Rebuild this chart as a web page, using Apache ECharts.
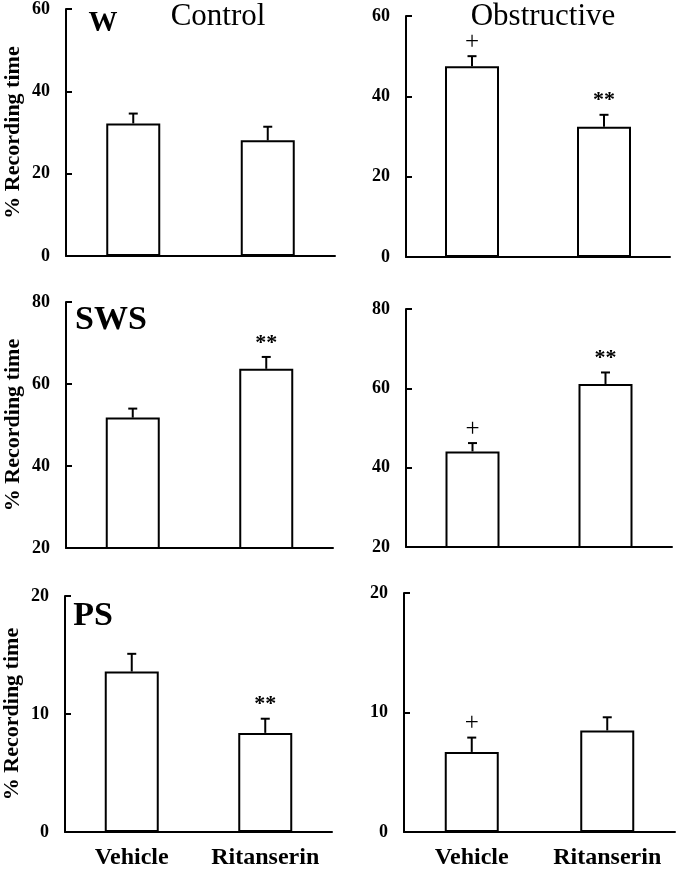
<!DOCTYPE html>
<html>
<head>
<meta charset="utf-8">
<script src="https://cdn.jsdelivr.net/npm/echarts@6/dist/echarts.min.js"></script>
<style>
html,body{margin:0;padding:0;background:#fff;}
#chart{width:678px;height:870px;}
</style>
</head>
<body>
<div id="chart"></div>
<script>
// ---- data ----
var categories = ['Vehicle', 'Ritanserin'];
var panelNames = ['W', 'SWS', 'PS'];
var columnTitles = ['Control', 'Obstructive'];
var yAxisName = '% Recording time';

var wControlMean = [32.2, 28.1];
var wControlErr = [2.4, 3.3];
var wObstrMean = [47.5, 32.4];
var wObstrErr = [2.5, 3.0];

var swsControlMean = [51.8, 63.7];
var swsControlErr = [2.2, 2.9];
var swsObstrMean = [44.1, 61.1];
var swsObstrErr = [2.1, 2.9];

var psControlMean = [13.6, 8.4];
var psControlErr = [1.5, 1.2];
var psObstrMean = [6.7, 8.5];
var psObstrErr = [1.2, 1.1];

var wControlMarks = ['', ''];
var wObstrMarks = ['+', '**'];
var swsControlMarks = ['', '**'];
var swsObstrMarks = ['+', '**'];
var psControlMarks = ['', '**'];
var psObstrMarks = ['+', ''];

var wTicks = [0, 60, 20];     // min, max, interval
var swsTicks = [20, 80, 20];
var psTicks = [0, 20, 10];

// ---- layout ----
var FONT = '"Liberation Serif", "Times New Roman", serif';
var panels = [
  {mean: wControlMean, err: wControlErr, marks: wControlMarks, ticks: wTicks, grid: {left: 66, top: 9, width: 269, height: 247}, col: 0, row: 0},
  {mean: wObstrMean, err: wObstrErr, marks: wObstrMarks, ticks: wTicks, grid: {left: 406, top: 16, width: 264, height: 241}, col: 1, row: 0},
  {mean: swsControlMean, err: swsControlErr, marks: swsControlMarks, ticks: swsTicks, grid: {left: 66, top: 302, width: 267, height: 246}, col: 0, row: 1},
  {mean: swsObstrMean, err: swsObstrErr, marks: swsObstrMarks, ticks: swsTicks, grid: {left: 406, top: 309, width: 266, height: 238}, col: 1, row: 1},
  {mean: psControlMean, err: psControlErr, marks: psControlMarks, ticks: psTicks, grid: {left: 63, top: 596, width: 269, height: 238}, col: 0, row: 2},
  {mean: psObstrMean, err: psObstrErr, marks: psObstrMarks, ticks: psTicks, grid: {left: 404, top: 593, width: 271, height: 241}, col: 1, row: 2}
];

var grids = [], xAxes = [], yAxes = [], series = [];
panels.forEach(function (p, i) {
  grids.push(p.grid);
  xAxes.push({
    type: 'category', gridIndex: i, data: categories,
    axisLine: {onZero: false, lineStyle: {color: '#000', width: 2}},
    axisTick: {show: false},
    axisLabel: {show: p.row === 2, interval: 0, hideOverlap: false, color: '#000', fontFamily: FONT, fontWeight: 'bold', fontSize: 24, margin: 14}
  });
  yAxes.push({
    type: 'value', gridIndex: i, min: p.ticks[0], max: p.ticks[1], interval: p.ticks[2],
    splitLine: {show: false},
    axisLine: {show: true, lineStyle: {color: '#000', width: 2}},
    axisTick: {show: true, inside: true, length: 6, lineStyle: {color: '#000', width: 2}},
    axisLabel: {color: '#000', fontFamily: FONT, fontWeight: 'bold', fontSize: 18, margin: 16},
    name: p.col === 0 ? yAxisName : '',
    nameLocation: 'middle', nameGap: 42,
    nameTextStyle: {color: '#000', fontFamily: FONT, fontWeight: 'bold', fontSize: 22}
  });
  series.push({
    type: 'bar', xAxisIndex: i, yAxisIndex: i, barWidth: 54,
    data: p.mean,
    itemStyle: {color: '#fff', borderColor: '#000', borderWidth: 2},
    silent: true, z: 2
  });
  var errData = p.mean.map(function (m, k) { return [k, m, p.err[k], p.marks[k]]; });
  series.push({
    type: 'custom', xAxisIndex: i, yAxisIndex: i, z: 3,
    data: errData,
    encode: {x: 0, y: 1},
    renderItem: function (params, api) {
      var x = api.value(0), m = api.value(1), e = api.value(2);
      var mark = errData[params.dataIndex][3];
      var base = api.coord([x, m]);
      var top = api.coord([x, m + e]);
      var children = [
        {type: 'line', shape: {x1: base[0], y1: base[1], x2: top[0], y2: top[1]}, style: {stroke: '#000', lineWidth: 2}},
        {type: 'line', shape: {x1: top[0] - 4.5, y1: top[1], x2: top[0] + 4.5, y2: top[1]}, style: {stroke: '#000', lineWidth: 2}}
      ];
      if (mark) {
        children.push({type: 'text', x: top[0], y: top[1] - 14,
          style: {text: mark, x: 0, y: 0, align: 'center', verticalAlign: 'middle', fill: '#000',
                  font: (mark === '+' ? 'normal 25px ' : 'bold 22px ') + FONT}});
      }
      return {type: 'group', children: children};
    }
  });
});

var graphics = [
  {type: 'text', x: 103, y: 24, style: {text: panelNames[0], align: 'center', verticalAlign: 'middle', fill: '#000', font: 'bold 29px ' + FONT}},
  {type: 'text', x: 111, y: 320, style: {text: panelNames[1], align: 'center', verticalAlign: 'middle', fill: '#000', font: 'bold 34px ' + FONT}},
  {type: 'text', x: 93, y: 616, style: {text: panelNames[2], align: 'center', verticalAlign: 'middle', fill: '#000', font: 'bold 34px ' + FONT}},
  {type: 'text', x: 218, y: 17, style: {text: columnTitles[0], align: 'center', verticalAlign: 'middle', fill: '#000', font: 'normal 31px ' + FONT}},
  {type: 'text', x: 543, y: 17, style: {text: columnTitles[1], align: 'center', verticalAlign: 'middle', fill: '#000', font: 'normal 31px ' + FONT}}
];

var chart = echarts.init(document.getElementById('chart'), null, {renderer: 'canvas'});
chart.setOption({
  animation: false,
  backgroundColor: '#fff',
  grid: grids, xAxis: xAxes, yAxis: yAxes, series: series,
  graphic: graphics
});
</script>
</body>
</html>
